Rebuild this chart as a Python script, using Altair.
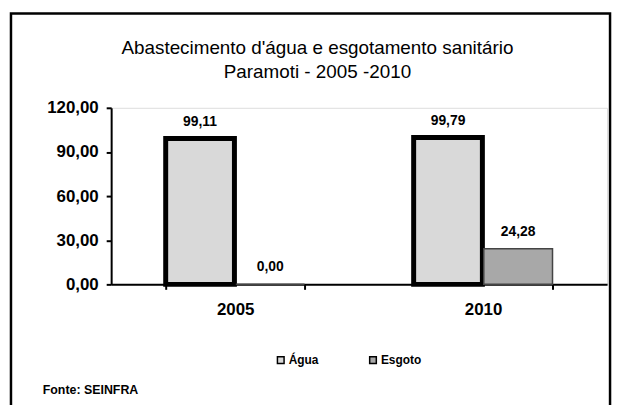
import altair as alt
import pandas as pd

years = ["2005", "2010"]
agua = [99.11, 99.79]
esgoto = [0.00, 24.28]
series = ["Água", "Esgoto"]
title_lines = ["Abastecimento d'água e esgotamento sanitário", "Paramoti  - 2005 -2010"]
source_note = "Fonte: SEINFRA"

rows = []
for i, y in enumerate(years):
    rows.append({"ano": y, "serie": series[0], "valor": agua[i]})
    rows.append({"ano": y, "serie": series[1], "valor": esgoto[i]})
df = pd.DataFrame(rows)

FONT = "Liberation Sans"

x_enc = alt.X("ano:N", title=None,
              scale=alt.Scale(paddingInner=0.44, paddingOuter=0.22),
              axis=alt.Axis(labelAngle=0, labelFontSize=17, labelFontWeight="bold",
                            labelFont=FONT, labelColor="black", domainColor="black",
                            domainWidth=2, tickColor="black", tickWidth=2, tickSize=5,
                            tickBand="extent", labelPadding=12, grid=False))
xoff = alt.XOffset("serie:N", sort=series, scale=alt.Scale(paddingInner=0.02))
y_enc = alt.Y("valor:Q", title=None,
              scale=alt.Scale(domain=[0, 120]),
              axis=alt.Axis(values=[0, 30, 60, 90, 120], format=".2f", grid=False,
                            labelFontSize=17, labelFontWeight="bold", labelFont=FONT,
                            labelColor="black", domainColor="black", domainWidth=2,
                            tickColor="black", tickWidth=2, tickSize=5, labelPadding=8))

bars = alt.Chart(df).mark_bar().encode(
    x=x_enc,
    xOffset=xoff,
    y=y_enc,
    color=alt.Color("serie:N", sort=series, title=None,
                    scale=alt.Scale(domain=series, range=["#d9d9d9", "#a8a8a8"]),
                    legend=alt.Legend(orient="none", legendX=165, legendY=248,
                                      direction="horizontal", symbolType="square",
                                      symbolSize=45, symbolStrokeColor="black",
                                      symbolStrokeWidth=1.5, labelFontSize=12,
                                      labelFontWeight="bold", labelFont=FONT,
                                      labelColor="black", columnPadding=48,
                                      labelOffset=2)),
    stroke=alt.condition(alt.datum.serie == "Água", alt.value("black"), alt.value("#444444")),
    strokeWidth=alt.condition(alt.datum.serie == "Água", alt.value(5), alt.value(1.5)),
)

labels = alt.Chart(df).mark_text(baseline="alphabetic", dy=-13, fontSize=14,
                                 fontWeight="bold", font=FONT, color="black").encode(
    x=alt.X("ano:N"), xOffset=xoff, y=alt.Y("valor:Q"),
    text=alt.Text("valor:Q", format=".2f"),
)

note_df = pd.DataFrame({"t": [source_note]})
note = alt.Chart(note_df).mark_text(align="left", baseline="middle", fontSize=12.5,
                                    fontWeight="bold", font=FONT, color="black").encode(
    x=alt.value(-69), y=alt.value(285), text="t:N")

title_df = pd.DataFrame({"t": ["\n".join(title_lines)]})
title = alt.Chart(title_df).mark_text(align="center", baseline="middle", fontSize=19,
                                      font=FONT, color="black", lineBreak="\n",
                                      lineHeight=24).encode(
    x=alt.value(208), y=alt.value(-60), text="t:N")

frame = alt.Chart(note_df).mark_rect(fill=None, stroke="black", strokeWidth=2.5).encode(
    x=alt.value(-101), x2=alt.value(503), y=alt.value(-95), y2=alt.value(340))

chart = alt.layer(frame, bars, labels, note, title).properties(
    width=500, height=178,
    autosize=alt.AutoSizeParams(type="none"),
    padding={"left": 104, "top": 99, "right": 8, "bottom": 120},
    background="white",
).configure_view(stroke="transparent", strokeWidth=0, strokeOpacity=0).configure_axis(
    grid=False
).configure(
    locale={"number": {"decimal": ",", "thousands": ".", "grouping": [3],
                       "currency": ["R$", ""]}}
)

chart.save("out.html", embed_options={"renderer": "svg", "actions": False})
